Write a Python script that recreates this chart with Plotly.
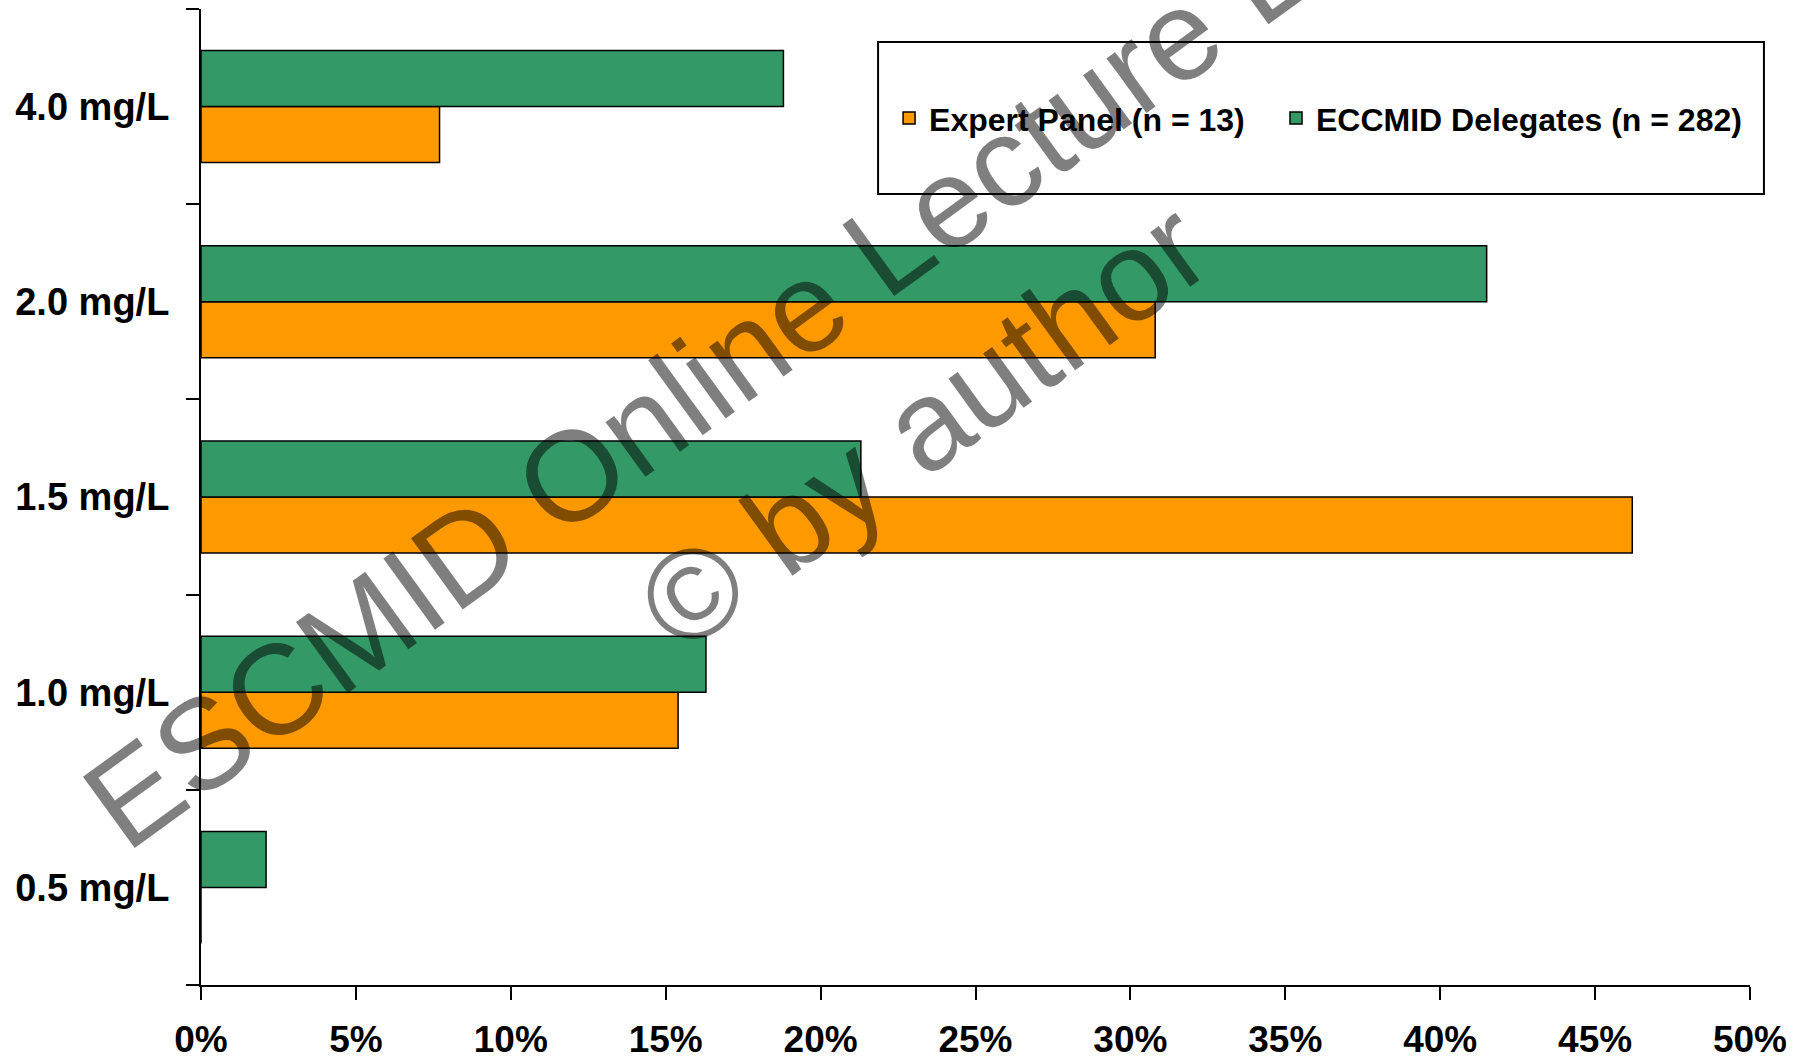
import plotly.graph_objects as go

# ---- data ----
categories = ["0.5 mg/L", "1.0 mg/L", "1.5 mg/L", "2.0 mg/L", "4.0 mg/L"]
expert_panel = [0.0, 15.4, 46.2, 30.8, 7.7]          # % of Expert Panel (n = 13)
eccmid_delegates = [2.1, 16.3, 21.3, 41.5, 18.8]     # % of ECCMID Delegates (n = 282)
series_names = ["Expert Panel (n = 13)", "ECCMID Delegates (n = 282)"]
x_ticks = [0, 5, 10, 15, 20, 25, 30, 35, 40, 45, 50]
x_tick_labels = ["0%", "5%", "10%", "15%", "20%", "25%", "30%", "35%", "40%", "45%", "50%"]
watermark_lines = ["ESCMID Online Lecture Library", "© by author"]

FONT = "Liberation Sans, Arial, sans-serif"
ORANGE = "#FF9900"
GREEN = "#339966"

fig = go.Figure()
fig.add_trace(go.Bar(
    y=categories, x=expert_panel, orientation="h", name=series_names[0],
    marker=dict(color=ORANGE, line=dict(color="black", width=1.5)),
    legend="legend", showlegend=True,
))
fig.add_trace(go.Bar(
    y=categories, x=eccmid_delegates, orientation="h", name=series_names[1],
    marker=dict(color=GREEN, line=dict(color="black", width=1.5)),
    legend="legend2", showlegend=True,
))

tickfont = dict(family=FONT, size=38, color="black", weight="bold")
xtickfont = dict(family=FONT, size=37, color="black", weight="bold")
legfont = dict(family=FONT, size=32, color="black", weight="bold")

fig.update_layout(
    width=1811, height=1063,
    margin=dict(l=201, r=61, t=9, b=78, pad=0, autoexpand=False),
    paper_bgcolor="white", plot_bgcolor="white",
    showlegend=True,
    barmode="group", bargap=0.426, bargroupgap=0,
    xaxis=dict(
        range=[0, 50], tickvals=x_ticks, ticktext=x_tick_labels,
        showgrid=False, zeroline=False, showline=True, linecolor="black", linewidth=2,
        ticks="outside", ticklen=13, tickwidth=2, tickcolor="black",
        tickfont=xtickfont, ticklabelstandoff=8, automargin=False,
    ),
    yaxis=dict(
        type="category", categoryorder="array", categoryarray=categories,
        showgrid=False, zeroline=False, showline=True, linecolor="black", linewidth=2,
        ticks="outside", tickson="boundaries", ticklen=13, tickwidth=2, tickcolor="black",
        tickfont=tickfont, ticklabelstandoff=22, automargin=False,
    ),
    legend=dict(
        x=0.4442, y=0.888, xanchor="left", yanchor="middle", orientation="h",
        bgcolor="rgba(0,0,0,0)", borderwidth=0, font=legfont, visible=True,
    ),
    legend2=dict(
        x=0.694, y=0.888, xanchor="left", yanchor="middle", orientation="h",
        bgcolor="rgba(0,0,0,0)", borderwidth=0, font=legfont, visible=True,
    ),
    shapes=[dict(
        type="rect", xref="paper", yref="paper",
        x0=0.4371, x1=1.0090, y0=0.8104, y1=0.9662,
        line=dict(color="black", width=2), fillcolor="rgba(0,0,0,0)", layer="above",
    )],
    annotations=[dict(
        text="<br>".join(watermark_lines), xref="paper", yref="paper",
        x=0.4345, y=0.6414, xanchor="center", yanchor="middle",
        showarrow=False, textangle=-36, align="center",
        font=dict(family=FONT, size=128, color="rgba(0,0,0,0.5)"),
    )],
)

fig.write_html("out.html")
